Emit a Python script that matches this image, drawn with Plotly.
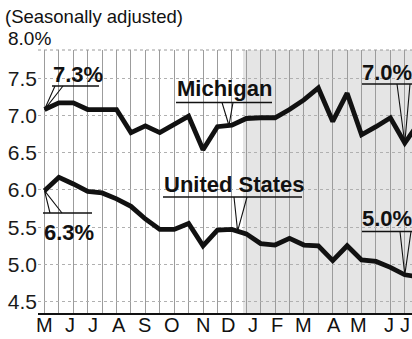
import numpy as np
import plotly.graph_objects as go

# ---- data (index = half-month period) ----
periods = list(range(27))
michigan = [7.08, 7.17, 7.17, 7.08, 7.08, 7.08, 6.77, 6.86, 6.77, 6.88, 6.99, 6.54, 6.85, 6.87,
            6.96, 6.97, 6.97, 7.08, 7.21, 7.37, 6.92, 7.30, 6.74, 6.85, 6.97, 6.63, 6.91]
us = [5.99, 6.17, 6.08, 5.98, 5.96, 5.88, 5.78, 5.61, 5.47, 5.47, 5.55, 5.25, 5.46, 5.47,
      5.41, 5.28, 5.26, 5.35, 5.26, 5.25, 5.05, 5.25, 5.06, 5.04, 4.96, 4.86, 4.83]
month_labels = ["M", "J", "J", "A", "S", "O", "N", "D", "J", "F", "M", "A", "M", "J", "J"]
month_pos = [0, 1.76, 3.35, 5.2, 6.97, 8.84, 11.0, 12.7, 14.5, 16.1, 18.0, 20.1, 21.8, 23.9, 25.5]
y_ticks = [4.5, 5.0, 5.5, 6.0, 6.5, 7.0, 7.5]
y_tick_text = ["4.5", "5.0", "5.5", "6.0", "6.5", "7.0", "7.5"]

W, H = 412, 339
ML, MR, MT, MB = 38, 0, 50, 26
XR = [-0.45, 25.5]
YR = [4.347, 7.88]
PW, PH = W - ML - MR, H - MT - MB
pxu = PW / (XR[1] - XR[0])
pyu = PH / (YR[1] - YR[0])


def px2x(px):
    return (px - ML) / pxu + XR[0]


def py2y(py):
    return YR[1] - (py - MT) / pyu


def ppx(px):  # pixel -> paper x
    return (px - ML) / PW


def ppy(py):  # pixel (from top) -> paper y
    return (H - py - MB) / PH


FONT = "Liberation Sans, Arial, sans-serif"
INK = "#111"

fig = go.Figure()
fig.add_trace(go.Scatter(x=periods, y=michigan, mode="lines",
                         line=dict(color=INK, width=4.8), hoverinfo="skip"))
fig.add_trace(go.Scatter(x=periods, y=us, mode="lines",
                         line=dict(color=INK, width=4.8), hoverinfo="skip"))

shapes = []
# shaded area (latest months)
shapes.append(dict(type="rect", xref="x", yref="paper", x0=px2x(243), x1=27, y0=0, y1=1,
                   fillcolor="#e5e5e5", line=dict(width=0), layer="below"))
# top border (dotted)
shapes.append(dict(type="line", xref="paper", yref="paper", x0=0, x1=1, y0=1, y1=1,
                   line=dict(color="#9a9a9a", width=1, dash="dot")))


def callout(text, tx_left, text_cy, ul_y, ul_x0, ul_x1, v0, v1, tip_x, tip_y):
    ann = dict(text="<b>" + text + "</b>", x=px2x(tx_left), y=py2y(text_cy), xref="x", yref="y",
               xanchor="left", yanchor="middle", showarrow=False,
               font=dict(family=FONT, size=22, color=INK))
    shapes.append(dict(type="line", xref="x", yref="y", x0=px2x(ul_x0), x1=px2x(ul_x1),
                       y0=py2y(ul_y), y1=py2y(ul_y), line=dict(color=INK, width=1.6)))
    path = "M {:.4f},{:.4f} L {:.4f},{:.4f} L {:.4f},{:.4f}".format(
        px2x(v0), py2y(ul_y), tip_x, tip_y, px2x(v1), py2y(ul_y))
    shapes.append(dict(type="path", xref="x", yref="y", path=path,
                       line=dict(color=INK, width=1.1)))
    return ann


anns = []
anns.append(callout("7.3%", 51, 74, 86, 52, 99, 55, 63, 0, michigan[0]))
anns.append(callout("Michigan", 175, 88, 102.5, 176, 272, 222, 233,
                    12.8, float(np.interp(12.8, periods, michigan))))
anns.append(callout("7.0%", 360, 72, 84, 362, 412, 397, 410, 25, michigan[25]))
anns.append(callout("United States", 162, 184, 197, 163, 302, 234, 247,
                    13.4, float(np.interp(13.4, periods, us))))
anns.append(callout("6.3%", 42, 232, 213, 43, 92, 50, 62, 0, us[0]))
anns.append(callout("5.0%", 360, 218, 231.5, 362, 412, 400, 411, 25, us[25]))

# month letters
for i, (lab, pos) in enumerate(zip(month_labels, month_pos)):
    last = i == len(month_labels) - 1
    anns.append(dict(text=lab, x=1.0 if last else pos, y=ppy(338),
                     xref="paper" if last else "x", yref="paper",
                     xanchor="right" if last else "center", yanchor="bottom", showarrow=False,
                     font=dict(family=FONT, size=20, color=INK)))

# header texts
anns.append(dict(text="(Seasonally adjusted)", x=ppx(3), y=ppy(17), xref="paper", yref="paper",
                 showarrow=False, xanchor="left", yanchor="middle",
                 font=dict(family=FONT, size=18.5, color=INK)))
anns.append(dict(text="8.0%", x=ppx(6), y=ppy(39), xref="paper", yref="paper",
                 showarrow=False, xanchor="left", yanchor="middle",
                 font=dict(family=FONT, size=19, color=INK)))

fig.update_layout(
    width=W, height=H, margin=dict(l=ML, r=MR, t=MT, b=MB),
    paper_bgcolor="white", plot_bgcolor="white", showlegend=False,
    shapes=shapes, annotations=anns,
    xaxis=dict(range=XR, tick0=0, dtick=1, showgrid=True, gridcolor="#9c9c9c", gridwidth=1,
               showticklabels=False, ticks="", zeroline=False, showline=True,
               linecolor=INK, linewidth=1.5, fixedrange=True),
    yaxis=dict(range=YR, tickvals=y_ticks, ticktext=y_tick_text, showgrid=True,
               gridcolor="#b0b0b0", griddash="dot", gridwidth=1, zeroline=False,
               showline=False, ticks="", tickfont=dict(family=FONT, size=21, color="#1a1a1a"),
               fixedrange=True),
)
fig.write_html("out.html")
